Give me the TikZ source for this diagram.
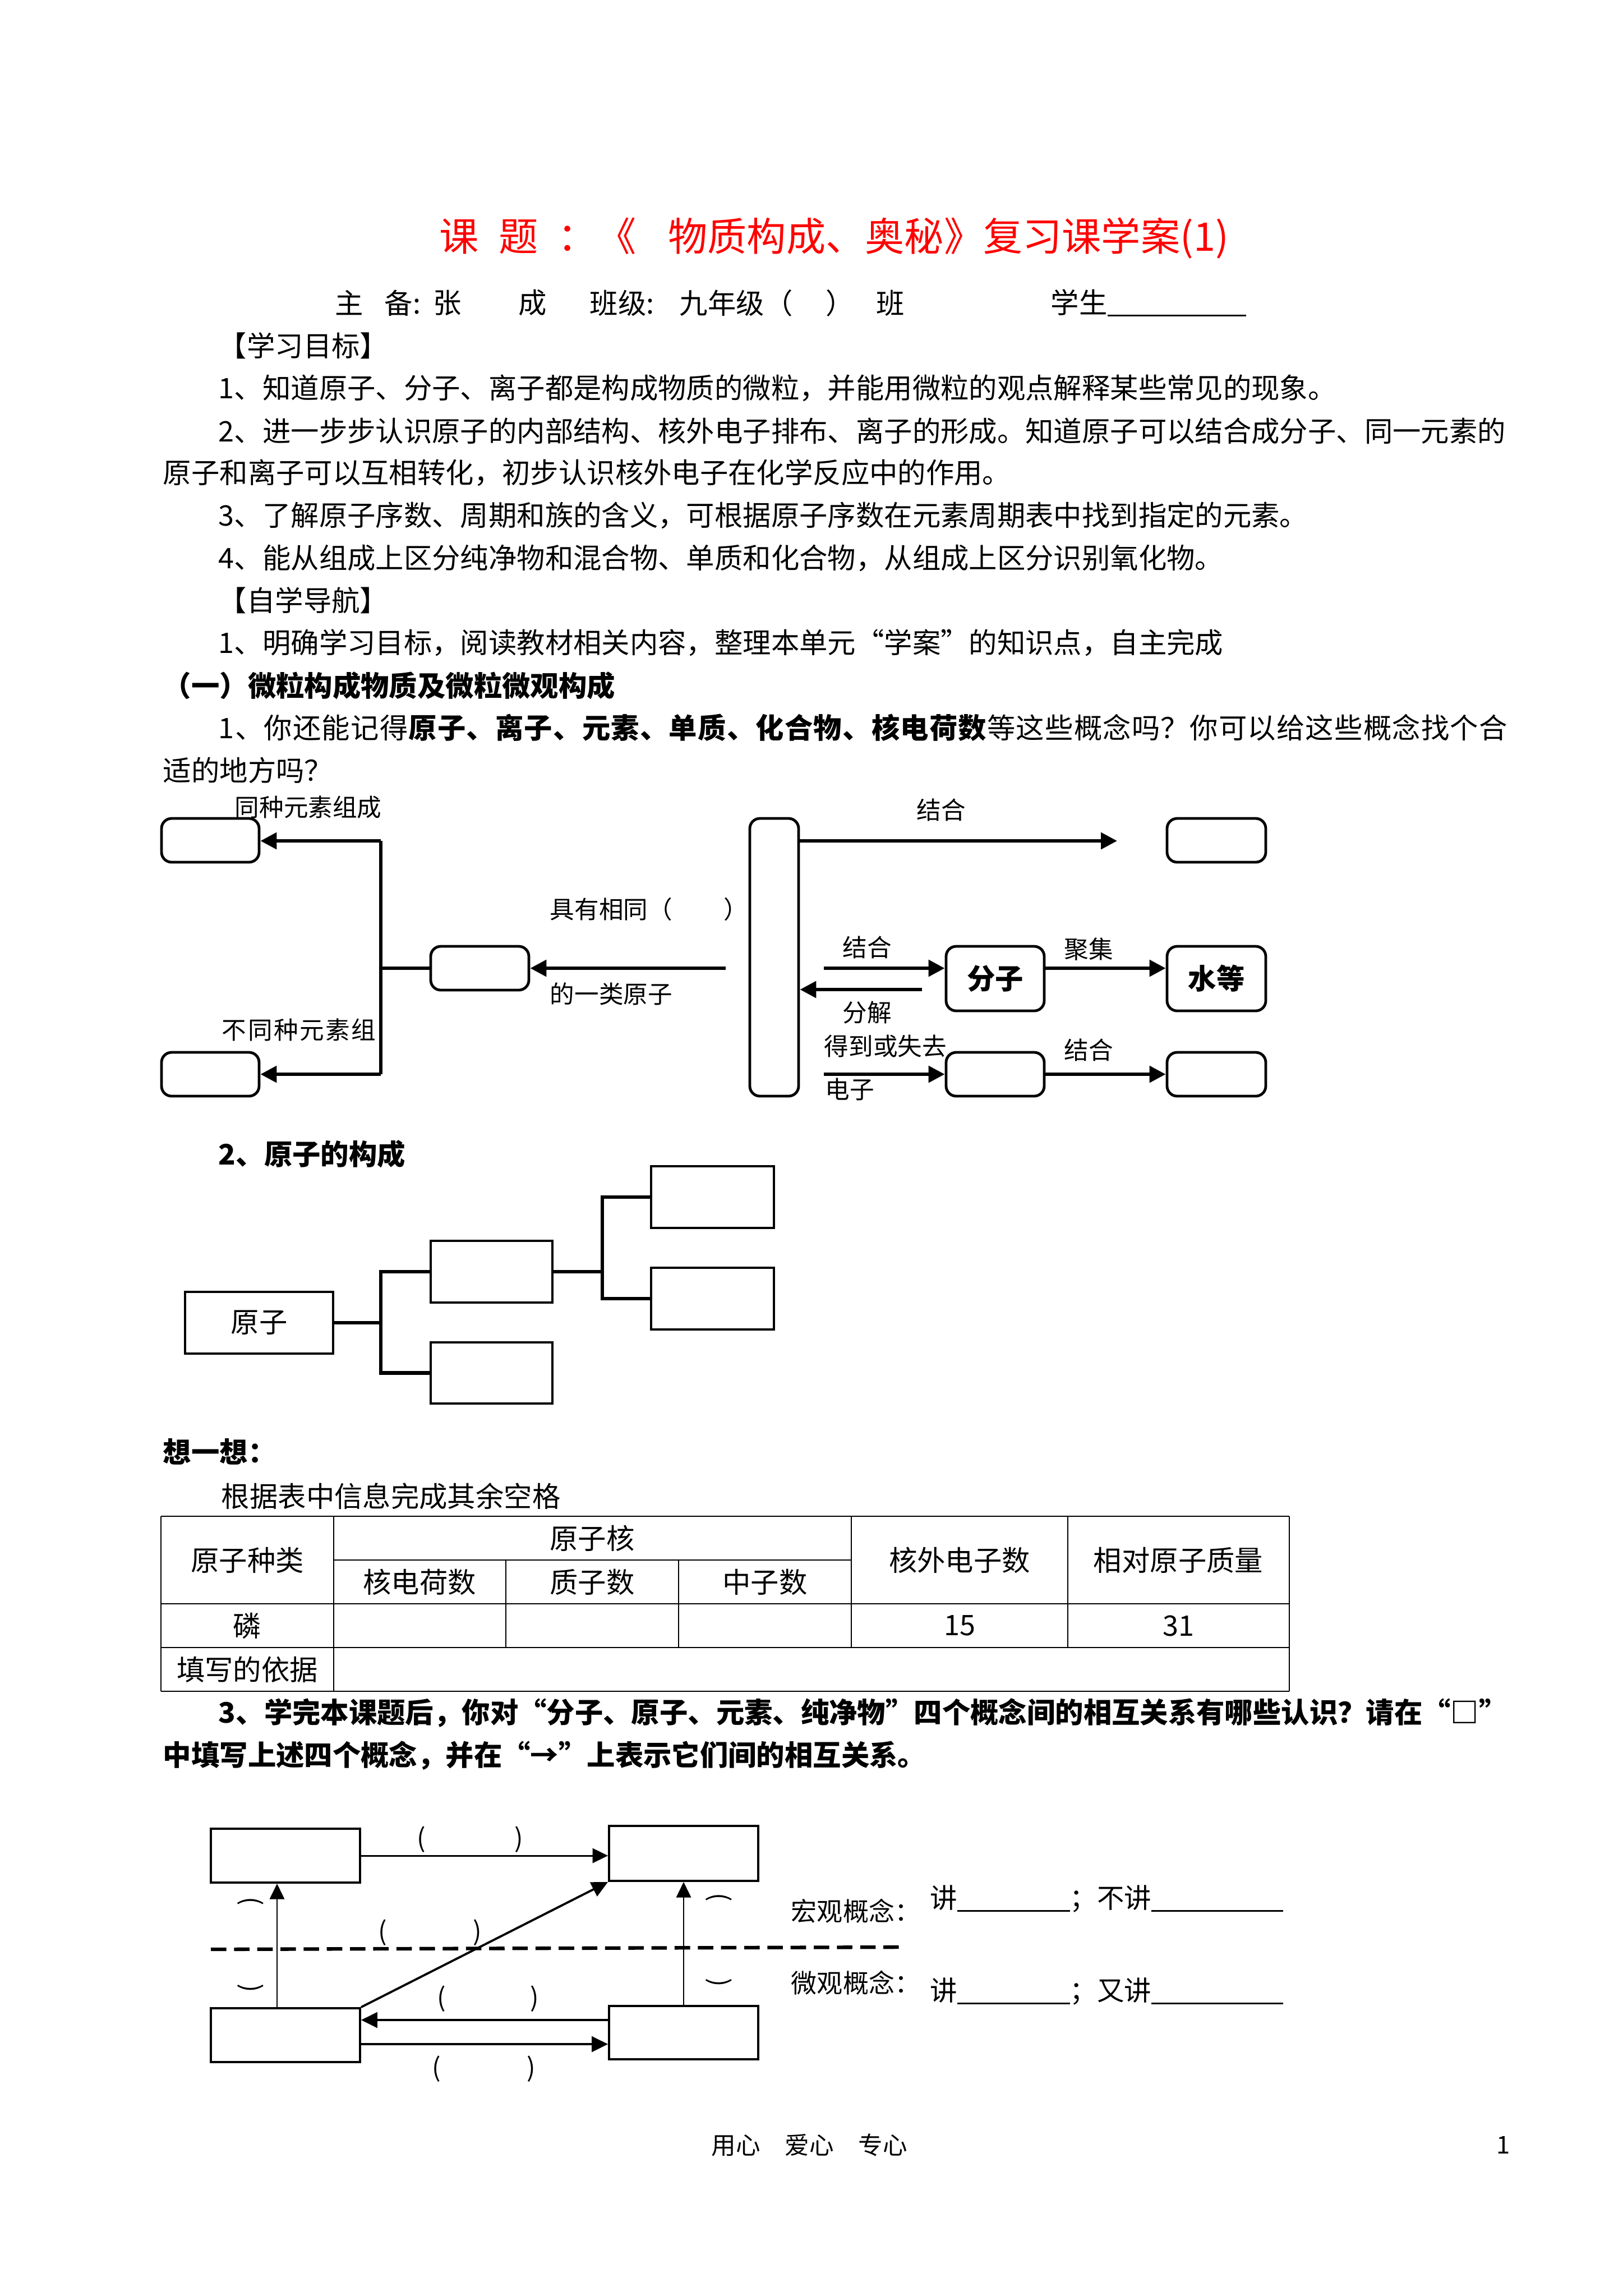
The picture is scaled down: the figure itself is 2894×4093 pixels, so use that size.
\documentclass[tikz,border=0pt]{standalone}
\usepackage{fontspec}
\setmainfont{Noto Sans CJK SC}
\usetikzlibrary{arrows.meta,fit}
\newcommand\bodyfont{\fontsize{10.4pt}{12pt}\selectfont}
\newcommand\smallfont{\fontsize{9pt}{10pt}\selectfont}
\begin{document}
\begin{tikzpicture}[x=0.07256mm,y=-0.07256mm,
  txt/.style={anchor=west,inner sep=0pt,font=\bodyfont},
  lbl/.style={inner sep=0pt,font=\smallfont},
  lblw/.style={lbl,anchor=west},
  rbox/.style={draw,line width=1pt,rounded corners=1.3mm,inner sep=0pt},
  sbox/.style={draw,line width=0.8pt,inner sep=0pt},
  tbox/.style={draw,line width=0.7pt,inner sep=0pt},
  conn/.style={line width=1.3pt},
  arr/.style={conn,-{Triangle[length=2.1mm,width=2.1mm]}},
  thinarr/.style={line width=0.6pt,-{Triangle[length=2mm,width=1.9mm]}},
  midarr/.style={line width=0.8pt,-{Triangle[length=2.1mm,width=2mm]}},
  par/.style={inner sep=0pt,font=\fontsize{9.5pt}{10pt}\selectfont},
  vpar/.style={par,rotate=-90},
]
\fill[white] (0,0) rectangle (2894,4093);
\useasboundingbox (0,0) rectangle (2894,4093);

% ---------- header ----------
\node[anchor=west,inner sep=0pt,text=red,font=\fontsize{14.5pt}{16pt}\selectfont] (title) at (783,425)
  {课\hspace{0.5em}题\hspace{0.5em}：《\hspace{0.8em}物质构成、奥秘》复习课学案(1)};
\node[txt] (h1) at (597,540) {主};
\node[txt] (h2) at (685,540) {备:};
\node[txt] (h3) at (772,540) {张};
\node[txt] (h4) at (924,540) {成};
\node[txt] (h5) at (1051,540) {班级:};
\node[txt] (h6) at (1211,540) {九年级（};
\node[txt] (h7) at (1472,540) {）};
\node[txt] (h8) at (1562,540) {班};
\node[txt] (h9) at (1873,540) {学生\rule[-1.2pt]{4.9em}{0.6pt}};

% ---------- text ----------
\node[txt] (t1) at (389,616) {【学习目标】};
\node[txt] (t2) at (389,692) {1、知道原子、分子、离子都是构成物质的微粒，并能用微粒的观点解释某些常见的现象。};
\node[txt] (t3) at (389,768) {2、进一步步认识原子的内部结构、核外电子排布、离子的形成。知道原子可以结合成分子、同一元素的};
\node[txt] (t4) at (290,843) {原子和离子可以互相转化，初步认识核外电子在化学反应中的作用。};
\node[txt] (t5) at (389,919) {3、了解原子序数、周期和族的含义，可根据原子序数在元素周期表中找到指定的元素。};
\node[txt] (t6) at (389,995) {4、能从组成上区分纯净物和混合物、单质和化合物，从组成上区分识别氧化物。};
\node[txt] (t7) at (389,1070) {【自学导航】};
\node[txt] (t8) at (389,1146) {1、明确学习目标，阅读教材相关内容，整理本单元“学案”的知识点，自主完成};
\node[txt,font=\bodyfont\bfseries] (t9) at (290,1222) {（一）微粒构成物质及微粒微观构成};
\node[txt] (t10) at (389,1297) {\addfontfeature{LetterSpace=2.4}1、你还能记得\textbf{原子、离子、元素、单质、化合物、核电荷数}等这些概念吗？你可以给这些概念找个合};
\node[txt] (t11) at (290,1373) {适的地方吗？};

% ---------- diagram 1 ----------
\node[rbox,fit={(288,1459) (462,1537)}] (bA) {};
\node[rbox,fit={(288,1876) (462,1954)}] (bB) {};
\node[rbox,fit={(768,1687) (943,1765)}] (bC) {};
\node[rbox,fit={(1337,1459) (1424,1954)}] (bD) {};
\node[rbox,fit={(2081,1459) (2257,1537)}] (bE) {};
\node[rbox,fit={(1687,1687) (1862,1802)},label={[inner sep=0pt,font=\bodyfont\bfseries]center:分子}] (bF) {};
\node[rbox,fit={(2081,1687) (2257,1802)},label={[inner sep=0pt,font=\bodyfont\bfseries]center:水等}] (bG) {};
\node[rbox,fit={(1687,1876) (1862,1954)}] (bH) {};
\node[rbox,fit={(2081,1876) (2257,1954)}] (bI) {};

\coordinate (j1) at (679,1726);
\coordinate (j1t) at (679,1499);
\coordinate (j1b) at (679,1915);
\draw[conn] (bC.west |- j1) -- (j1);
\draw[conn] (j1t) -- (j1b);
\draw[arr] (j1t) -- (j1t -| bA.east);
\draw[arr] (j1b) -- (j1b -| bB.east);
\coordinate (c1) at (1294,1726);
\draw[arr] (c1) -- (c1 -| bC.east);
\coordinate (e1) at (1992,1499);
\draw[arr] (bD.east |- e1) -- (e1);
\coordinate (f1) at (1469,1726);
\draw[arr] (f1) -- (f1 -| bF.west);
\coordinate (f2) at (1644,1764);
\draw[arr] (f2) -- (f2 -| bD.east);
\draw[arr] (bF.east |- f1) -- (f1 -| bG.west);
\coordinate (g1) at (1469,1915);
\draw[arr] (g1) -- (g1 -| bH.west);
\draw[arr] (bH.east |- g1) -- (g1 -| bI.west);

\node[lblw] (l1) at (418,1439) {同种元素组成};
\node[lblw] (l2) at (395,1836) {\addfontfeature{LetterSpace=6}不同种元素组};
\node[lblw] (l3) at (980,1621) {具有相同（\hspace{2.1em}）};
\node[lblw] (l4) at (980,1772) {的一类原子};
\node[lbl] (l5) at (1678,1444) {结合};
\node[lbl] (l6) at (1546,1689) {结合};
\node[lbl] (l7) at (1546,1805) {分解};
\node[lbl] (l8) at (1941,1692) {聚集};
\node[lblw] (l9) at (1469,1865) {得到或失去};
\node[lblw] (l10) at (1471,1942) {电子};
\node[lbl] (l11) at (1941,1872) {结合};

% ---------- section 2 ----------
\node[txt,font=\bodyfont\bfseries] (s2) at (389,2057) {2、原子的构成};
\node[tbox,fit={(330,2303) (594,2413)},label={[inner sep=0pt,font=\bodyfont]center:原子}] (atom) {};
\node[tbox,fit={(768,2212) (985,2322)}] (m1) {};
\node[tbox,fit={(768,2393) (985,2502)}] (m2) {};
\node[tbox,fit={(1161,2079) (1380,2189)}] (r1) {};
\node[tbox,fit={(1161,2260) (1380,2370)}] (r2) {};
\coordinate (k1) at (679,0);
\coordinate (k2) at (1074,0);
\draw[conn] (atom.east) -- (atom.east -| k1);
\draw[conn] (m1.west) -- (m1.west -| k1) -- (m2.west -| k1) -- (m2.west);
\draw[conn] (m1.east) -- (m1.east -| k2);
\draw[conn] (r1.west) -- (r1.west -| k2) -- (r2.west -| k2) -- (r2.west);

% ---------- think ----------
\node[txt,font=\bodyfont\bfseries] (th) at (290,2588) {想一想：};
\node[txt] (th2) at (394,2667) {根据表中信息完成其余空格};

% table
\draw[line width=0.6pt] (287,2703) -- (2299,2703);
\draw[line width=0.4pt] (595,2781) -- (1518,2781);
\draw[line width=0.5pt] (287,2859) -- (2299,2859);
\draw[line width=0.6pt] (287,2937) -- (2299,2937);
\draw[line width=0.6pt] (287,3015) -- (2299,3015);
\draw[line width=0.4pt] (287,2703) -- (287,3015);
\draw[line width=0.4pt] (595,2703) -- (595,3015);
\draw[line width=0.4pt] (902,2781) -- (902,2937);
\draw[line width=0.4pt] (1210,2781) -- (1210,2937);
\draw[line width=0.4pt] (1518,2703) -- (1518,2937);
\draw[line width=0.4pt] (1904,2703) -- (1904,2937);
\draw[line width=0.4pt] (2299,2703) -- (2299,3015);
\node[inner sep=0pt,font=\bodyfont] (c00) at (441,2781) {原子种类};
\node[inner sep=0pt,font=\bodyfont] (c01) at (1056,2742) {原子核};
\node[inner sep=0pt,font=\bodyfont] (c02) at (748,2820) {核电荷数};
\node[inner sep=0pt,font=\bodyfont] (c03) at (1056,2820) {质子数};
\node[inner sep=0pt,font=\bodyfont] (c04) at (1364,2820) {中子数};
\node[inner sep=0pt,font=\bodyfont] (c05) at (1711,2781) {核外电子数};
\node[inner sep=0pt,font=\bodyfont] (c06) at (2101,2781) {相对原子质量};
\node[inner sep=0pt,font=\bodyfont] (c10) at (441,2898) {磷};
\node[inner sep=0pt,font=\bodyfont] (c11) at (1711,2898) {15};
\node[inner sep=0pt,font=\bodyfont] (c12) at (2101,2898) {31};
\node[inner sep=0pt,font=\bodyfont] (c20) at (441,2976) {填写的依据};

% ---------- question 3 ----------
\node[txt,font=\bodyfont\bfseries] (q1) at (389,3053) {3、学完本课题后，你对“分子、原子、元素、纯净物”四个概念间的相互关系有哪些认识？请在“□”};
\node[txt,font=\bodyfont\bfseries] (q2) at (290,3129) {中填写上述四个概念，并在“→”上表示它们间的相互关系。};

% ---------- diagram 3 ----------
\node[sbox,fit={(376,3260) (642,3356)}] (TL) {};
\node[sbox,fit={(1086,3255) (1352,3353)}] (TR) {};
\node[sbox,fit={(376,3580) (642,3676)}] (BL) {};
\node[sbox,fit={(1086,3576) (1352,3671)}] (BR) {};
\draw[thinarr] (TL.east) -- (TL.east -| TR.west);
\coordinate (v1) at (494,0);
\draw[thinarr] (BL.north -| v1) -- (TL.south -| v1);
\draw[thinarr] (BR.north) -- (TR.south);
\draw[midarr] (BL.north east) -- (TR.south west);
\coordinate (hh1) at (0,3601);
\coordinate (hh2) at (0,3644);
\draw[midarr] (BR.west |- hh1) -- (BL.east |- hh1);
\draw[midarr] (BL.east |- hh2) -- (BR.west |- hh2);
\draw[line width=1.3pt,dash pattern=on 2mm off 1mm] (376,3475) -- (1611,3471);

\node[par] (p1a) at (751,3279) {(};
\node[par] (p1b) at (925,3279) {)};
\node[par] (p2a) at (682,3445) {(};
\node[par] (p2b) at (851,3445) {)};
\node[par] (p3a) at (787,3563) {(};
\node[par] (p3b) at (953,3563) {)};
\node[par] (p4a) at (778,3688) {(};
\node[par] (p4b) at (947,3688) {)};
\node[vpar] (p5a) at (447,3389) {(};
\node[vpar] (p5b) at (447,3544) {)};
\node[vpar] (p6a) at (1282,3382) {(};
\node[vpar] (p6b) at (1282,3534) {)};

\node[anchor=west,inner sep=0pt,font=\fontsize{9.5pt}{10pt}\selectfont] (mac) at (1410,3407) {宏观概念：};
\node[anchor=west,inner sep=0pt,font=\fontsize{9.5pt}{10pt}\selectfont] (mic) at (1410,3535) {微观概念：};
\node[anchor=west,inner sep=0pt,font=\fontsize{10pt}{11pt}\selectfont] (mac2) at (1658,3385)
  {讲\rule[-1.4pt]{4.14em}{0.6pt}；不讲\rule[-1.4pt]{4.85em}{0.6pt}};
\node[anchor=west,inner sep=0pt,font=\fontsize{10pt}{11pt}\selectfont] (mic2) at (1658,3550)
  {讲\rule[-1.4pt]{4.14em}{0.6pt}；又讲\rule[-1.4pt]{4.85em}{0.6pt}};

% ---------- footer ----------
\node[anchor=west,inner sep=0pt,font=\fontsize{9pt}{10pt}\selectfont] (ft) at (1268,3824) {用心\hspace{1em}爱心\hspace{1em}专心};
\node[anchor=west,inner sep=0pt,font=\fontsize{9pt}{10pt}\selectfont] (pg) at (2668,3824) {1};
\end{tikzpicture}
\end{document}
